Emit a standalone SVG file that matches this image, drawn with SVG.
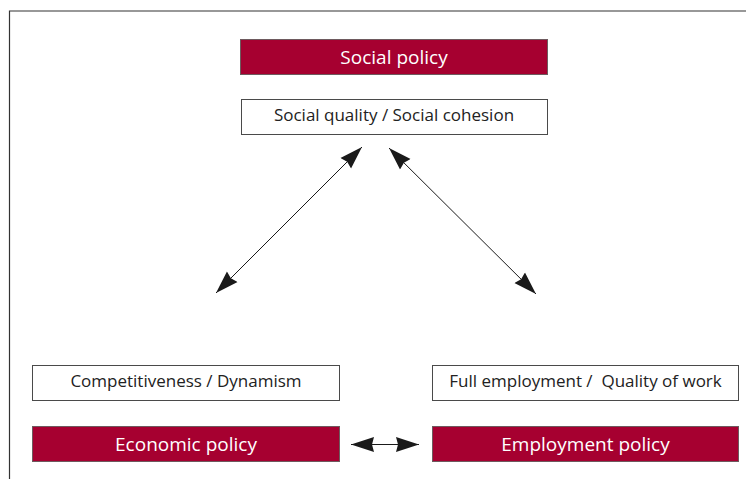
<svg xmlns="http://www.w3.org/2000/svg" width="746" height="479" viewBox="0 0 746 479">
<style>
.red{fill:#A60030;stroke:#6e5a5e;stroke-width:1}
.wht{fill:#ffffff;stroke:#4a4a4a;stroke-width:1}
.tr{font-family:"Open Sans","Noto Sans","Liberation Sans",sans-serif;font-size:19px;fill:#ffffff;text-anchor:middle}
.tw{font-family:"Open Sans","Noto Sans","Liberation Sans",sans-serif;font-size:17px;fill:#222222;text-anchor:middle;white-space:pre}
.ln{stroke:#1a1a1a;stroke-width:1;fill:none}
</style>
<defs>
<marker id="ah" markerWidth="24" markerHeight="16" refX="23" refY="7.5" orient="auto-start-reverse" markerUnits="userSpaceOnUse" viewBox="0 0 24 15">
<path d="M23,7.5 L0,0 L2,7.5 L0,15 Z" fill="#1a1a1a"/>
</marker>
</defs>
<rect x="0" y="0" width="746" height="479" fill="#ffffff"/>
<g id="frame">
<path d="M9.5,479 L9.5,11 L746,11" fill="none" stroke="#333333" stroke-width="1.2"/>
</g>
<g id="social-policy">
<rect class="red" x="240.5" y="39.5" width="307" height="35"/>
<text class="tr" x="394" y="63.5">Social policy</text>
</g>
<g id="social-quality">
<rect class="wht" x="241.5" y="99.5" width="306" height="35"/>
<text class="tw" x="394" y="121">Social quality / Social cohesion</text>
</g>
<g id="competitiveness">
<rect class="wht" x="32.5" y="365.5" width="307" height="35"/>
<text class="tw" x="186" y="387">Competitiveness / Dynamism</text>
</g>
<g id="economic-policy">
<rect class="red" x="32.5" y="426.5" width="307" height="35"/>
<text class="tr" x="186" y="450.5">Economic policy</text>
</g>
<g id="full-employment">
<rect class="wht" x="432.5" y="365.5" width="306" height="35"/>
<text class="tw" x="585.5" y="387" xml:space="preserve">Full employment /  Quality of work</text>
</g>
<g id="employment-policy">
<rect class="red" x="432.5" y="426.5" width="306" height="35"/>
<text class="tr" x="585.5" y="450.5">Employment policy</text>
</g>
<g id="connectors">
<line class="ln" x1="362" y1="147" x2="216" y2="293" marker-start="url(#ah)" marker-end="url(#ah)"/>
<line class="ln" x1="389" y1="148" x2="536" y2="294" marker-start="url(#ah)" marker-end="url(#ah)"/>
<line class="ln" x1="351" y1="444.5" x2="419" y2="444.5" marker-start="url(#ah)" marker-end="url(#ah)"/>
</g>
</svg>
